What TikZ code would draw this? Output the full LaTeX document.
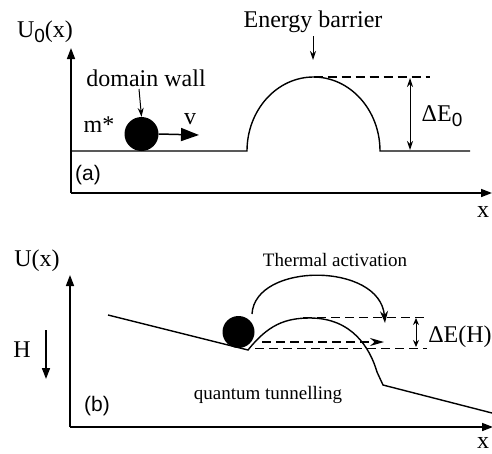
\documentclass[tikz,border=0pt]{standalone}
\usepackage{fontspec}
\setmainfont{Liberation Serif}
\newfontfamily\hv{Liberation Sans}
\usetikzlibrary{arrows.meta}
\begin{document}
\begin{tikzpicture}[x=1pt,y=-1pt,
  axis/.style={line width=1.6pt,-{Triangle[length=11pt,width=8pt]}},
  curve/.style={line width=1.4pt},
  lbl/.style={inner sep=0pt,font=\fontsize{24}{26}\selectfont},
  small/.style={inner sep=0pt,font=\fontsize{19}{21}\selectfont},
  tag/.style={inner sep=0pt,font=\hv\fontsize{21}{23}\selectfont},
  ptr/.style={line width=1pt,-{Stealth[length=9pt,width=6pt]}},
  dptr/.style={line width=1pt,{Stealth[length=9pt,width=6pt]}-{Stealth[length=9pt,width=6pt]}},
  ball/.style={circle,fill=black,inner sep=0pt},
  dsh/.style={line width=1.2pt,dash pattern=on 9pt off 5pt}]
\useasboundingbox (0,0) rectangle (492,453);
% ---------- panel (a)
\coordinate (ao) at (71,193);
\coordinate (ay) at (71,48);
\coordinate (ax) at (492,193);
\draw[axis] (ao) -- (ay);
\draw[axis] (ao) -- (ax);
\node[lbl] (u0) at (45,32) {U\raisebox{-5pt}{\hv\fontsize{19}{19}\selectfont 0}(x)};
\node[lbl] (xa) at (483,212) {x};
\node[tag] (ta) at (88,175) {(a)};
\coordinate (a1) at (71,151);
\coordinate (a2) at (247,151);
\coordinate (a3) at (470,151);
\draw[curve] (a1) -- (a2) arc[start angle=180,end angle=360,x radius=66.5,y radius=74] -- (a3);
\coordinate (top) at (313.5,77);
\coordinate (dend) at (430,77);
\draw[dsh] (top) -- (dend);
\coordinate (de1) at (410,78);
\coordinate (de2) at (410,150);
\draw[dptr] (de1) -- (de2);
\node[lbl] (de0) at (442,116) {ΔE\raisebox{-5pt}{\hv\fontsize{19}{19}\selectfont 0}};
\node[lbl] (eb) at (313,22) {Energy barrier};
\coordinate (ebt) at (313,60);
\draw[ptr] (eb.south) ++(0,3) -- (ebt);
\node[lbl] (dw) at (146,78) {domain wall};
\node[ball,minimum size=34pt] (b1) at (141.5,134) {};
\draw[ptr] (139,89) -- (b1.north);
\node[lbl] (m) at (99,125) {m*};
\coordinate (vt) at (199,135);
\draw[line width=1.5pt,-{Triangle[length=18pt,width=13pt]}] (b1.east) -- (vt);
\node[lbl] (v) at (190,119) {v};
% ---------- panel (b)
\coordinate (bo) at (70,427);
\coordinate (by) at (70,275);
\coordinate (bx) at (493,427);
\draw[axis] (bo) -- (by);
\draw[axis] (bo) -- (bx);
\node[lbl] (ux) at (37,261) {U(x)};
\node[lbl] (xb) at (483,443) {x};
\node[tag] (tb) at (97,406) {(b)};
\node[lbl] (h) at (22,350) {H};
\coordinate (h1) at (46,330);
\coordinate (h2) at (46,379);
\draw[line width=1.6pt,-{Triangle[length=11pt,width=8pt]}] (h1) -- (h2);
\coordinate (s1) at (108,315);
\coordinate (s2) at (248,350);
\coordinate (s3) at (383,385);
\coordinate (s4) at (492,413);
\draw[curve] (s1) -- (s2) .. controls (268,325) and (285,318) .. (310,318)
  .. controls (352,318) and (370,348) .. (377,372) -- (s3) -- (s4);
\node[ball,minimum size=32pt] (b2) at (238.5,332) {};
\coordinate (th1) at (252,314);
\coordinate (th2) at (385,323);
\draw[line width=1.4pt,-{Stealth[length=12pt,width=8pt]}] (th1) .. controls (255,262) and (380,262) .. (th2);
\node[small] (ta2) at (335,260) {Thermal activation};
\node[small] (qt) at (268,395) {quantum tunnelling};
\coordinate (u1) at (303,317);
\coordinate (u2) at (427,317);
\draw[dsh,line width=1pt] (u1) -- (u2);
\coordinate (l1) at (255,348);
\coordinate (l2) at (427,348);
\draw[dsh,line width=1pt] (l1) -- (l2);
\coordinate (q1) at (262,342);
\coordinate (q2) at (384,342);
\draw[dsh,line width=1.3pt,-{Stealth[length=14pt,width=8pt]}] (q1) -- (q2);
\coordinate (e1) at (416,318);
\coordinate (e2) at (416,347);
\draw[line width=1pt,{Stealth[length=7pt,width=6pt]}-{Stealth[length=7pt,width=6pt]}] (e1) -- (e2);
\node[lbl] (deh) at (460,337) {ΔE(H)};
\end{tikzpicture}
\end{document}
